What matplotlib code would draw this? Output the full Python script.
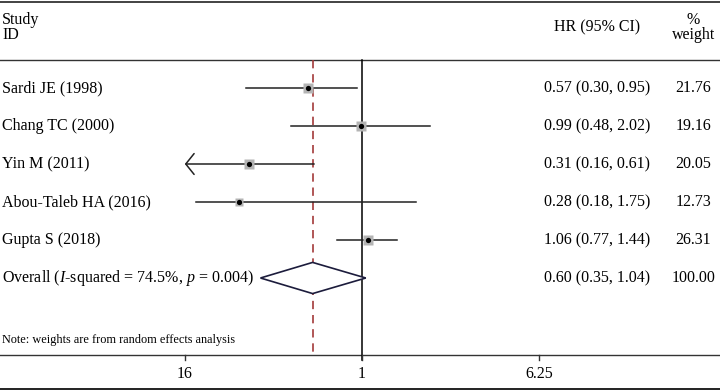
import numpy as np
import matplotlib
matplotlib.use("Agg")
import matplotlib.pyplot as plt
from matplotlib.transforms import blended_transform_factory

plt.rcParams['font.family'] = ['Liberation Serif', 'DejaVu Serif']
plt.rcParams['mathtext.fontset'] = 'custom'
plt.rcParams['mathtext.rm'] = 'Liberation Serif'
plt.rcParams['mathtext.it'] = 'Liberation Serif:italic'

# study data
studies = ['Sardi JE (1998)', 'Chang TC (2000)', 'Yin M (2011)',
           'Abou-Taleb HA (2016)', 'Gupta S (2018)']
hr = [0.57, 0.99, 0.31, 0.28, 1.06]
lo = [0.30, 0.48, 0.16, 0.18, 0.77]
hi = [0.95, 2.02, 0.61, 1.75, 1.44]
weights = ['21.76', '19.16', '20.05', '12.73', '26.31']
w_num = [21.76, 19.16, 20.05, 12.73, 26.31]

overall_hr, overall_lo, overall_hi = 0.60, 0.35, 1.04
overall_label = r'Overall ($I$-squared = 74.5%, $p$ = 0.004)'
overall_weight = '100.00'

tick_vals = [0.16, 1, 6.25]
tick_labels = ['16', '1', '6.25']
axis_min = 0.16

fig = plt.figure(figsize=(7.2, 3.91), dpi=100)
ax = fig.add_axes([0, 0, 1, 1])
ax.set_xscale('log')
ax.set_xlim(np.exp(-362 / 96.7), np.exp((720 - 362) / 96.7))
ax.set_ylim(7.974, -2.316)
ax.axis('off')

tx = blended_transform_factory(ax.transAxes, ax.transData)
fs = 11.5

# header
ax.text(0.003, -1.8, 'Study', transform=tx, fontsize=fs, va='center')
ax.text(0.003, -1.4, 'ID', transform=tx, fontsize=fs, va='center')
ax.text(0.829, -1.6, 'HR (95% CI)', transform=tx, fontsize=fs,
        va='center', ha='center')
ax.text(0.963, -1.8, '%', transform=tx, fontsize=fs, va='center', ha='center')
ax.text(0.963, -1.4, 'weight', transform=tx, fontsize=fs,
        va='center', ha='center')

# frame lines
ax.plot([0, 1], [-2.263, -2.263], transform=tx, color='#222222', lw=1.2,
        clip_on=False)
ax.plot([0, 1], [-0.737, -0.737], transform=tx, color='#333333', lw=1.0)
ax.plot([0, 1], [7.026, 7.026], transform=tx, color='#333333', lw=1.0)
ax.plot([0, 1], [7.92, 7.92], transform=tx, color='#111111', lw=1.3)

# reference lines
ax.plot([1, 1], [-0.737, 7.15], color='black', lw=1.1)
ax.plot([overall_hr, overall_hr], [-0.737, 7.026], color='#a33a3a', lw=1.2,
        dashes=(5, 3.5))

# ticks
for v, lab in zip(tick_vals, tick_labels):
    ax.plot([v, v], [7.026, 7.15], color='#333333', lw=1.0)
    ax.text(v, 7.52, lab, fontsize=fs, ha='center', va='center')

# studies
for i, (name, h, l, u, w, wn) in enumerate(zip(studies, hr, lo, hi,
                                                 weights, w_num)):
    ax.text(0.003, i, name, transform=tx, fontsize=fs, va='center')
    if l <= axis_min:
        ax.annotate('', xy=(l, i), xytext=(u, i),
                    arrowprops=dict(arrowstyle='->,head_length=0.6,head_width=0.75',
                                    color='#222222', lw=1.1,
                                    shrinkA=0, shrinkB=0, mutation_scale=10))
    else:
        ax.plot([l, u], [i, i], color='#222222', lw=1.1)
    ax.plot(h, i, marker='s', ms=6.6 * (wn / 20) ** 0.25,
            color='#b4b4b4', mec='none', zorder=3)
    ax.plot(h, i, marker='o', ms=3.8, mew=0, color='black', zorder=4)
    ax.text(0.829, i, f'{h:.2f} ({l:.2f}, {u:.2f})', transform=tx,
            fontsize=fs, va='center', ha='center')
    ax.text(0.963, i, w, transform=tx, fontsize=fs, va='center', ha='center')

# overall
oy = len(studies)
ax.text(0.003, oy, overall_label, transform=tx, fontsize=fs, va='center')
ax.fill([overall_lo, overall_hr, overall_hi, overall_hr],
        [oy, oy - 0.41, oy, oy + 0.41], facecolor='white',
        edgecolor='#1c1c3c', lw=1.2, zorder=3)
ax.text(0.829, oy, f'{overall_hr:.2f} ({overall_lo:.2f}, {overall_hi:.2f})',
        transform=tx, fontsize=fs, va='center', ha='center')
ax.text(0.963, oy, overall_weight, transform=tx, fontsize=fs,
        va='center', ha='center')

ax.text(0.003, 6.63, 'Note: weights are from random effects analysis',
        transform=tx, fontsize=8.8, va='center')

fig.savefig('out.png', dpi=100)
